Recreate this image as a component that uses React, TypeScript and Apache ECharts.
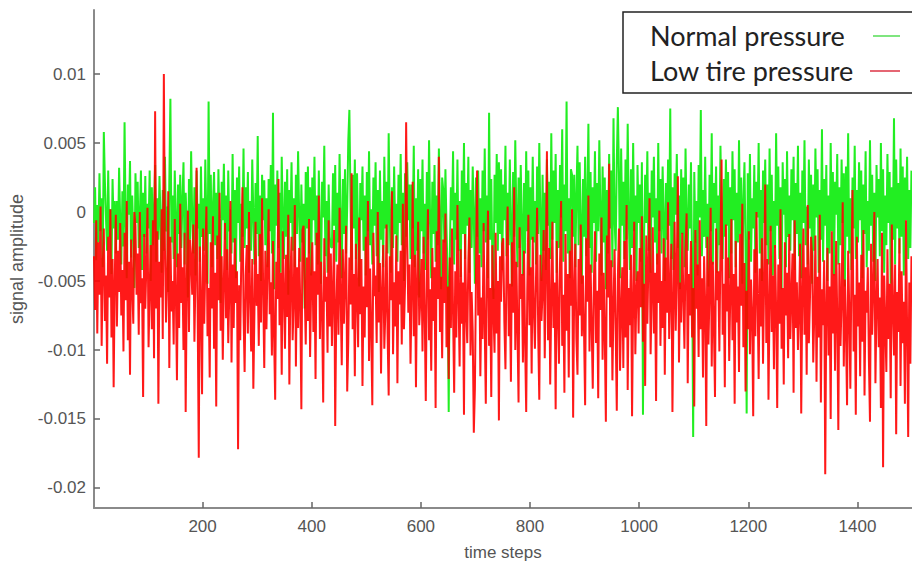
import React, { useEffect, useRef } from "react";
import * as echarts from "echarts";

// stored points are time steps 1, 3, 5, ... 1499
const STEP_START = 1;
const STEP_EVERY = 2;

// Normal pressure signal, in units of 1e-4
const normalE4 = [
  -8,18,-35,5,-22,28,-14,10,-40,58,22,-5,-28,30,-18,2,-45,24,-12,8,
  -30,8,-20,32,-6,-38,15,-25,65,-10,-48,20,-2,37,-33,12,-16,-55,28,-8,
  22,-26,-4,30,-42,14,-18,26,-30,6,-12,30,-50,18,-24,2,34,-36,10,-20,
  26,-8,-44,16,-28,40,-14,4,-58,22,82,-22,12,-34,30,-6,-40,20,-16,27,
  -26,8,36,-38,14,-10,-62,24,-20,44,-4,-30,18,-46,30,-12,6,-36,33,-18,
  10,-28,38,-8,-52,80,-16,27,-40,4,29,-24,14,-34,31,-10,-66,22,-6,35,
  -20,12,-42,30,-14,2,-30,42,-22,16,-48,25,-8,33,-36,6,-18,46,-26,18,
  -12,29,-44,8,-28,38,-2,-38,21,-16,55,-32,12,-50,27,-6,23,-24,10,-40,
  24,-14,34,-30,72,-56,20,-10,30,-26,14,-44,40,-4,-34,22,-18,31,-60,16,
  -8,36,-28,10,-40,27,-16,44,-2,-36,20,-22,6,-70,29,-12,33,-30,18,-46,
  25,-6,40,-24,12,-38,30,-14,-52,22,-4,48,-32,8,-44,20,-18,-25,-26,28,
  -10,34,-36,14,-22,42,-8,-48,24,-16,31,-30,4,52,74,10,-42,27,-12,38,
  -34,28,-18,-54,21,-6,33,-28,12,-46,29,-14,44,-24,2,-38,25,-10,36,-32,
  16,-58,30,-20,8,-40,40,-12,22,-30,57,-4,-44,18,-26,33,-16,6,-36,27,
  -8,42,-24,14,-50,28,-18,36,-6,20,-34,20,-12,48,-40,10,-28,31,-62,24,
  -14,38,-30,6,-42,29,-20,52,-8,-48,22,-16,34,-36,12,-24,46,-4,-56,25,
  16,-22,31,-12,-46,-145,-30,18,-6,44,-38,14,-20,38,-28,8,-47,30,-16,50,
  -34,21,-10,40,-44,16,-26,33,-2,-52,25,-18,30,-30,10,-40,30,-14,46,-22,
  12,-48,72,-20,24,-36,-63,27,-8,42,-28,36,-16,31,-42,20,-6,48,-32,14,
  -24,38,-12,-54,29,-18,52,-4,-40,25,-26,34,-10,-46,21,-30,44,-14,30,-46,
  18,-20,40,-22,8,-38,33,-16,50,-6,-50,27,-28,14,-42,38,-10,22,-34,57,
  -20,30,-8,42,-44,16,-26,34,-4,60,-36,20,-14,80,-30,10,-48,31,27,-18,
  27,-40,12,48,-24,36,-10,-52,24,-18,40,-32,6,64,-26,29,-44,18,-8,44,
  -36,21,-14,52,-2,-46,33,-22,25,-56,16,-30,42,-12,30,-40,68,-6,-28,36,
  76,28,-48,46,-10,22,-34,38,-20,64,-4,-42,31,-26,50,-14,12,-50,34,-8,
  20,-36,36,-147,-18,27,-8,44,-28,14,-44,30,-4,40,-22,10,-38,50,-14,24,
  -30,33,-6,-50,21,-20,38,-10,75,-34,18,-42,28,-2,42,-26,12,-56,31,-16,
  25,-40,46,-8,-28,20,-12,36,-36,-163,29,-22,8,-46,34,-4,74,-32,16,-18,
  40,-26,6,-54,27,-14,57,-38,21,-8,33,-44,12,-24,48,-2,-34,24,-18,38,
  -10,29,-48,18,-30,44,-6,31,-40,14,-22,52,-16,25,-52,8,36,-28,-146,28,
  -20,42,-36,10,-12,34,-44,22,-4,50,-30,16,-50,30,-8,38,-24,20,-38,46,
  -14,27,-46,8,-26,57,-10,33,-34,18,-56,36,-2,24,-40,44,-18,12,-28,31,
  -6,40,-42,21,-16,48,-32,14,-48,30,-8,52,-24,4,-38,38,-12,27,-52,20,
  -28,46,-4,31,-44,16,-20,60,-36,24,-10,34,-50,12,-30,50,-14,29,-46,22,
  -2,42,-38,18,-24,38,-8,28,-54,33,-18,57,-30,10,-42,25,-12,48,-34,16,
  -22,36,-6,30,-48,20,-16,44,-40,8,-28,52,-10,27,-36,14,-50,34,-4,24,
  -32,50,-14,31,-44,12,-24,42,-8,29,-52,18,-20,68,-38,38,-12,21,-30,46,
  -18,33,-46,25,-6,40,-34,16,-26,30,
];

// Low tire pressure signal, in units of 1e-4
const lowE4 = [
  -32,-71,-6,-88,-22,-60,4,-97,-40,-12,-79,-46,-110,-18,-62,2,-91,-34,-127,-50,
  -2,-83,-28,-58,-8,-75,-42,-101,-15,-64,8,-93,-36,-118,-20,-52,-81,0,-10,-60,
  -30,-89,0,-66,-48,-134,-16,-70,-38,3,-98,-56,-24,-85,-6,-106,73,-70,-14,-139,
  -36,-62,2,-92,100,-26,-80,-48,15,-113,-18,-72,-50,-96,-5,-58,-122,-30,-84,6,
  -66,-40,-100,-15,-145,-54,1,-87,-20,-33,-60,-9,-94,-46,32,-74,-178,-25,-65,-132,
  -12,-81,-37,4,-90,-55,-120,-22,-70,-3,-99,-44,-141,-17,-64,14,-86,-32,-107,-50,
  -8,-77,-27,-95,-58,8,-109,-38,-84,-19,-66,-43,-172,-53,-93,-30,18,-72,-116,-46,
  -24,-88,0,-62,-101,-34,-128,-72,-7,-68,-45,-97,-16,-80,10,-56,-113,-28,-85,-40,
  2,-74,-51,-104,-21,-90,-136,-36,-63,24,-82,-44,-118,-14,-58,-99,-31,-76,-2,-125,
  -48,-18,-93,-64,5,-112,-40,-84,-26,-68,-143,-13,-10,-55,-96,-33,-79,-5,-105,-52,
  -22,-87,-43,-121,-15,-60,12,-92,-36,-73,-138,-19,-65,-47,-102,-6,-83,-30,-97,-57,
  -13,-155,-70,-38,-89,3,-62,-111,-27,-81,-50,-10,-130,-94,-33,-67,28,-85,-45,-119,
  -23,-59,-98,-4,-74,-34,-126,-54,-91,-18,-69,8,-108,-41,-86,-140,-15,-61,-46,-95,
  0,-80,-37,-117,-57,-24,-99,-71,-9,-88,-133,-32,-64,15,-103,-51,-83,-17,-124,-43,
  -67,-28,-96,6,-85,-52,65,-21,-73,-38,-110,-60,22,-90,-31,-127,-49,-7,-82,-64,
  -34,-101,-18,-72,-137,-45,2,-93,-56,-115,-26,-79,-40,-142,-14,-63,40,-87,-47,-106,
  -20,-66,-1,-98,-54,-121,-33,-84,-12,-74,-131,-43,-91,5,-61,-112,-27,-81,-51,-147,
  -16,-70,-95,-35,-4,-104,-58,-86,-160,-128,-46,30,-75,-31,-119,-62,-92,-8,-83,-139,
  -41,1,-97,-55,-134,-24,-71,-102,-15,-88,-50,-151,-32,-65,-23,-19,-80,-114,-38,4,
  -90,-52,-123,-22,-73,18,-100,-36,-85,-138,-11,-63,-45,-109,-28,-94,-145,-56,-2,-82,
  -40,-117,-18,-69,-99,-48,3,-88,-136,-31,-79,-58,-13,-106,-43,44,-93,-26,-125,-64,
  -7,-84,-51,-143,-21,-72,-110,-37,8,-97,-60,-131,-16,-86,-45,-120,-28,-68,2,-149,
  -55,-23,-92,-118,-34,-75,-9,-90,-46,-87,-140,-19,-65,12,-101,-38,-83,-128,-52,-14,
  -95,-57,-135,-30,-71,-4,-107,-44,-89,-152,-17,-62,35,-98,-35,-122,-67,-27,-86,-144,
  -47,-12,-115,-74,-40,-113,-21,-91,5,-129,-55,-82,-31,-148,-63,-7,-103,-58,-43,-88,
  -26,-69,-3,-94,-52,-126,-17,-81,-37,10,-103,-60,-11,-88,-44,-137,-30,-66,1,-97,
  -50,-84,-19,-118,-33,-73,7,-92,-56,-23,-145,-67,-7,-86,-40,26,-109,-51,-80,-15,
  -62,-99,-28,-1,-124,-45,-75,-21,-91,-55,-141,-13,-70,-38,-105,-6,-85,-48,-120,-32,
  -68,-155,-18,-96,-57,3,-112,-36,-83,-134,-12,-64,-43,-101,-26,38,-89,-52,-127,-9,
  -72,-33,-108,-60,-5,-93,-45,-139,-21,-80,-54,-116,-16,-68,6,-98,-37,-130,-57,-85,
  -14,-103,-49,-74,-148,-27,-90,0,-62,-121,-41,-83,-19,-110,-52,20,-95,-34,-136,-65,
  -10,-87,-46,-114,-24,-71,-142,-38,-81,2,-99,-55,-125,-22,-75,-44,-106,-16,-92,-61,
  -30,-131,-6,-84,-51,-100,-69,-23,-146,-58,-12,-89,-40,-118,5,-95,-63,-18,-32,-109,
  -73,-17,-123,-47,-91,-2,-138,-56,-82,-35,-190,-67,-26,-104,-54,-150,-14,-88,-45,-115,
  -21,-76,-158,-37,-97,-64,7,-112,-49,-86,-140,-28,-70,-128,-43,16,-101,-60,-147,-18,
  -83,-51,-119,-31,-94,-13,-133,-57,-73,-40,-107,-152,-23,-89,-55,0,-124,-67,-34,-98,
  -62,-142,-15,-185,-46,-80,-116,-27,-92,-52,-135,-9,-72,-104,-38,-161,-58,-87,-19,-126,
  -43,-95,-65,-139,-6,-84,-163,-51,-110,-32,
];

const yTicks = [-0.02, -0.015, -0.01, -0.005, 0, 0.005, 0.01];
const xTicks = [200, 400, 600, 800, 1000, 1200, 1400];
const legendLabels = ["Normal pressure", "Low tire pressure"];
const seriesColors = ["#22ee22", "#ff0000"];

const toPairs = (arr: number[]) =>
  arr.map((v, i) => [STEP_START + i * STEP_EVERY, v / 10000]);

export default function App() {
  const ref = useRef<HTMLDivElement>(null);

  useEffect(() => {
    if (!ref.current) return;
    const chart = echarts.init(ref.current, undefined, { renderer: "svg" });
    const labelFont = "'Liberation Sans', Arial, sans-serif";
    const axisLine = { show: true, onZero: false, lineStyle: { color: "#8a8a8a", width: 2 } };
    const tickBase = { show: true, inside: true, length: 6, lineStyle: { color: "#666", width: 1.5 } };
    const nameTextStyle = { color: "#555", fontSize: 17, fontFamily: labelFont };
    chart.setOption({
      animation: false,
      backgroundColor: "#ffffff",
      grid: { left: 93, top: 10, width: 822, height: 498, containLabel: false },
      xAxis: {
        type: "value",
        min: 1,
        max: 1500,
        name: "time steps",
        nameLocation: "middle",
        nameGap: 36,
        nameTextStyle,
        axisLine,
        splitLine: { show: false },
        axisTick: { ...tickBase, customValues: xTicks },
        axisLabel: {
          customValues: xTicks,
          color: "#555",
          fontSize: 17,
          fontFamily: labelFont,
          margin: 10,
          formatter: (v: number) => String(v),
        },
      },
      yAxis: {
        type: "value",
        min: -0.02145,
        max: 0.01464,
        name: "signal amplitude",
        nameLocation: "middle",
        nameGap: 68,
        nameTextStyle: { ...nameTextStyle, fontSize: 18 },
        axisLine,
        splitLine: { show: false },
        axisTick: { ...tickBase, customValues: yTicks },
        axisLabel: {
          customValues: yTicks,
          color: "#555",
          fontSize: 17,
          fontFamily: labelFont,
          margin: 8,
          formatter: (v: number) => String(v),
        },
      },
      series: [
        {
          name: legendLabels[0],
          type: "line",
          data: toPairs(normalE4),
          showSymbol: false,
          lineStyle: { color: seriesColors[0], width: 2 },
          itemStyle: { color: seriesColors[0] },
          z: 2,
        },
        {
          name: legendLabels[1],
          type: "line",
          data: toPairs(lowE4),
          showSymbol: false,
          lineStyle: { color: seriesColors[1], width: 2, opacity: 0.9 },
          itemStyle: { color: seriesColors[1] },
          z: 3,
        },
      ],
      graphic: [
        {
          type: "rect",
          shape: { x: 623, y: 12, width: 310, height: 81 },
          style: { fill: "#ffffff", stroke: "#222", lineWidth: 1.5 },
          z: 100,
        },
        {
          type: "text",
          x: 650,
          y: 35,
          style: {
            text: legendLabels[0],
            fill: "#222",
            font: "27px Lato, 'Open Sans', sans-serif",
            verticalAlign: "middle",
          },
          z: 101,
        },
        {
          type: "text",
          x: 650,
          y: 70,
          style: {
            text: legendLabels[1],
            fill: "#222",
            font: "27px Lato, 'Open Sans', sans-serif",
            verticalAlign: "middle",
          },
          z: 101,
        },
        {
          type: "line",
          shape: { x1: 873, y1: 36, x2: 900, y2: 36 },
          style: { stroke: "#55dd55", lineWidth: 1.5 },
          z: 101,
        },
        {
          type: "line",
          shape: { x1: 870, y1: 71, x2: 900, y2: 71 },
          style: { stroke: "#dd3344", lineWidth: 1.5 },
          z: 101,
        },
      ],
    });
    return () => chart.dispose();
  }, []);

  return (
    <div
      ref={ref}
      style={{ position: "absolute", left: 0, top: 0, width: 912, height: 567, overflow: "hidden" }}
    />
  );
}
